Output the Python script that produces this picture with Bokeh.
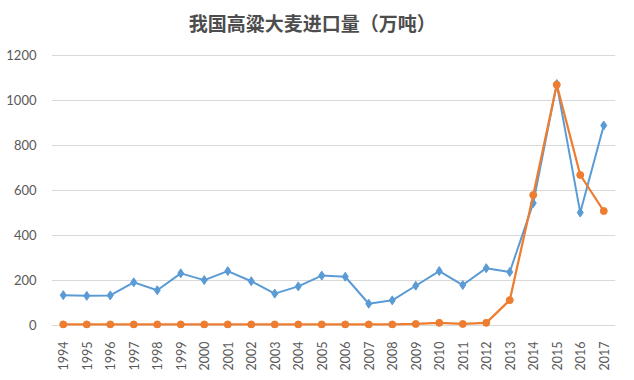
from bokeh.plotting import figure
from bokeh.models import FactorRange, Range1d, FixedTicker, ColumnDataSource, Label
from bokeh.embed import file_html
from bokeh.resources import INLINE

years = [str(y) for y in range(1994, 2018)]
sorghum = [133, 130, 132, 190, 155, 230, 200, 240, 195, 140, 172, 220,
           215, 95, 110, 175, 240, 178, 253, 236, 542, 1071, 500, 887]
barley = [3, 3, 3, 3, 3, 3, 3, 3, 3, 3, 3, 3,
          3, 3, 3, 5, 10, 5, 10, 111, 578, 1068, 667, 507]
y_ticks = [0, 200, 400, 600, 800, 1000, 1200]
title = "我国高粱大麦进口量（万吨）"

src = ColumnDataSource(dict(x=years, s=sorghum, b=barley))

p = figure(frame_width=564, frame_height=323, x_range=FactorRange(*years, range_padding=0),
           y_range=Range1d(-15, 1420), output_backend="svg", toolbar_location=None,
           min_border_left=51, min_border_right=3, min_border_top=5, min_border_bottom=36)
p.outline_line_color = None

p.line("x", "s", source=src, line_color="#5B9BD5", line_width=2)
p.scatter("x", "s", source=src, marker="diamond", size=9, fill_color="#5B9BD5", line_color="#5B9BD5")
p.line("x", "b", source=src, line_color="#ED7D31", line_width=2.25)
p.scatter("x", "b", source=src, marker="circle", size=7, fill_color="#ED7D31", line_color="#ED7D31")

p.add_layout(Label(x=11.1, y=1344, text=title, text_align="center", text_baseline="middle",
                   text_font="Noto Sans CJK SC", text_font_size="19px", text_font_style="bold",
                   text_color="#4d4d4d"))

p.yaxis.ticker = FixedTicker(ticks=y_ticks)
p.ygrid.ticker = FixedTicker(ticks=y_ticks)
p.ygrid.grid_line_color = "#D9D9D9"
p.xgrid.grid_line_color = None
p.yaxis.axis_line_color = None
p.yaxis.major_tick_line_color = None
p.yaxis.minor_tick_line_color = None
p.yaxis.major_label_text_font = "Lato"
p.yaxis.major_label_text_font_size = "13px"
p.yaxis.major_label_text_color = "#595959"
p.yaxis.major_label_standoff = 9

p.xaxis.axis_line_color = None
p.xaxis.major_tick_line_color = None
p.xaxis.minor_tick_line_color = None
p.xaxis.major_label_orientation = 1.5708
p.xaxis.major_label_text_font = "Lato"
p.xaxis.major_label_text_font_size = "12.5px"
p.xaxis.major_label_text_color = "#595959"
p.xaxis.major_label_standoff = 7

open("out.html", "w").write(file_html(p, INLINE))
